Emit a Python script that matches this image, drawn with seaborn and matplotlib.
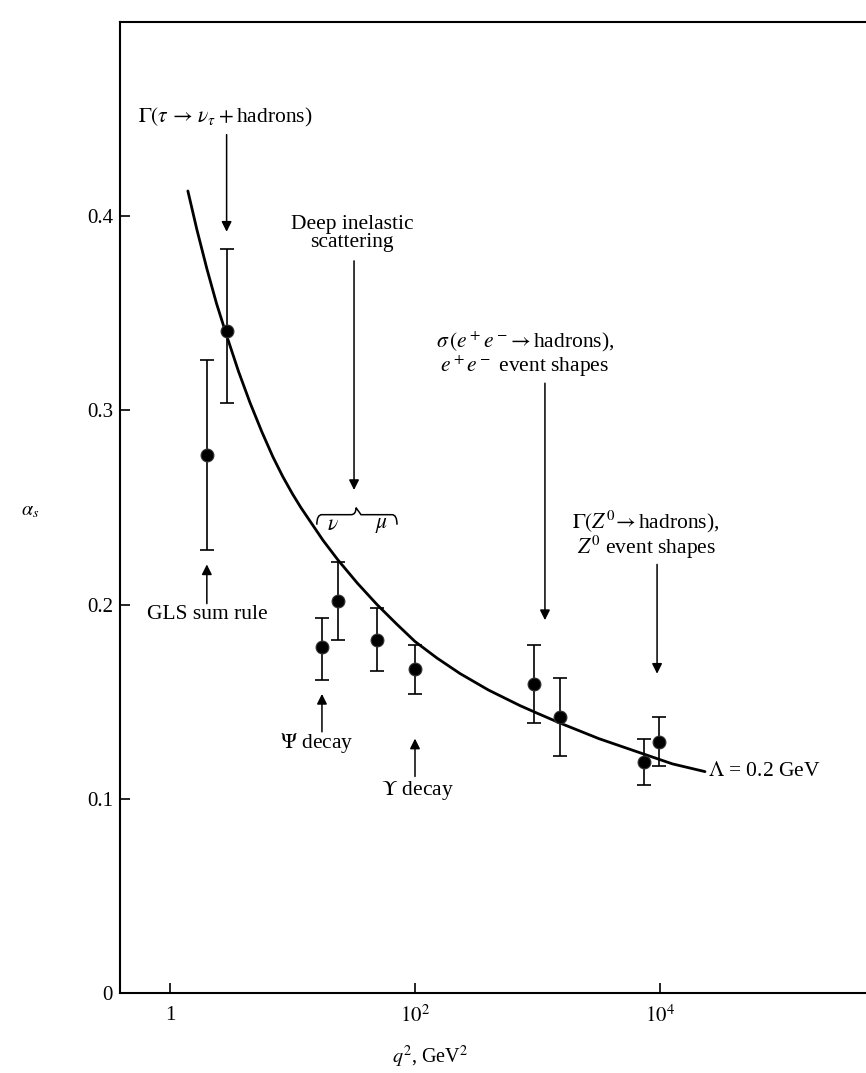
import numpy as np
import pandas as pd
import matplotlib
matplotlib.use("Agg")
import matplotlib.pyplot as plt
from matplotlib.path import Path
from matplotlib.patches import PathPatch
from matplotlib.transforms import IdentityTransform
import seaborn as sns

# Measured strong coupling values with their error ranges
q2_points = [2.0, 2.92, 17.4, 23.5, 49.0, 100.0, 936.0, 1527.0, 7400.0, 9820.0]
alpha_points = [0.277, 0.341, 0.178, 0.202, 0.182, 0.167, 0.159, 0.142, 0.119, 0.129]
alpha_low = [0.228, 0.304, 0.161, 0.182, 0.166, 0.154, 0.139, 0.122, 0.107, 0.117]
alpha_high = [0.326, 0.383, 0.193, 0.222, 0.198, 0.179, 0.179, 0.162, 0.131, 0.142]

# Running coupling curve for Lambda = 0.2 GeV
curve_q2 = [1.40, 1.66, 2.0, 2.40, 2.92, 3.63, 4.50, 5.62, 6.93, 8.32, 10.0,
            11.7, 13.9, 17.8, 23.5, 33.9, 49.0, 70.8, 100.0, 151.0, 233.0,
            398.0, 719.0, 1000.0, 1528.0, 3162.0, 7396.0, 12590.0, 23280.0]
curve_alpha = [0.413, 0.393, 0.373, 0.355, 0.338, 0.320, 0.304, 0.289, 0.276,
               0.266, 0.257, 0.250, 0.243, 0.233, 0.223, 0.211, 0.200, 0.190,
               0.181, 0.1725, 0.1645, 0.156, 0.148, 0.144, 0.139, 0.131, 0.123,
               0.118, 0.114]

x_ticks = [1, 1e2, 1e4]
x_tick_labels = ["1", r"$10^2$", r"$10^4$"]
y_ticks = [0, 0.1, 0.2, 0.3, 0.4]
y_tick_labels = ["0", "0.1", "0.2", "0.3", "0.4"]

points = pd.DataFrame({"q2": q2_points, "alpha": alpha_points,
                       "lo": alpha_low, "hi": alpha_high})
curve = pd.DataFrame({"q2": curve_q2, "alpha": curve_alpha})

sns.set_theme(style="ticks")
plt.rcParams["font.family"] = ["Liberation Serif", "DejaVu Serif"]
plt.rcParams["mathtext.fontset"] = "stix"
plt.rcParams["axes.linewidth"] = 1.5
for key in ("text.color", "axes.labelcolor", "xtick.color", "ytick.color",
            "axes.edgecolor"):
    plt.rcParams[key] = "black"

W, H = 866, 1073
fig = plt.figure(figsize=(W / 100, H / 100), dpi=100)
ax = fig.add_axes([120 / W, 1 - 993 / H, (W - 120) / W, (993 - 22) / H])

ax.set_xscale("log")
ax.set_xlim(0.391, 4.8e5)
ax.set_ylim(0, 0.5)

# theory curve
sns.lineplot(data=curve, x="q2", y="alpha", ax=ax, color="black", lw=2.0,
             sort=False, estimator=None)

# error bars and points
ax.errorbar(points["q2"], points["alpha"],
            yerr=[points["alpha"] - points["lo"], points["hi"] - points["alpha"]],
            fmt="none", ecolor="black", elinewidth=1.2, capsize=5, capthick=1.2)
sns.scatterplot(data=points, x="q2", y="alpha", ax=ax, color="black", s=85,
                edgecolor="#333333", linewidth=0.8, zorder=5)

ax.set_xticks(x_ticks)
ax.set_xticklabels(x_tick_labels)
ax.set_yticks(y_ticks)
ax.set_yticklabels(y_tick_labels)
ax.minorticks_off()
ax.tick_params(axis="both", direction="in", length=7, width=1.2,
               labelsize=15, colors="black")
ax.tick_params(axis="x", pad=9)
ax.tick_params(axis="y", pad=5)
ax.spines["right"].set_visible(False)

ax.set_xlabel(r"$q^2$, GeV$^2$", fontsize=14.5)
ax.xaxis.set_label_coords(0.4155, -0.052)
ax.set_ylabel(r"$\alpha_s$", fontsize=14.5, rotation=0)
ax.yaxis.set_label_coords(-0.12, 0.487)

fs = 15.5
arrow_kw = dict(arrowstyle="-|>", lw=1.1, color="black", mutation_scale=15,
                shrinkA=0, shrinkB=0)


def arrow(x, y_from, y_to):
    ax.annotate("", xy=(x, y_to), xytext=(x, y_from), arrowprops=arrow_kw)


# tau decay
ax.text(2.81, 0.451, r"$\Gamma(\tau\,\rightarrow\,\nu_\tau + $hadrons)",
        ha="center", va="center", fontsize=fs)
arrow(2.9, 0.442, 0.392)

# deep inelastic scattering
ax.text(30.6, 0.391, "Deep inelastic\nscattering", ha="center", va="center",
        fontsize=fs, linespacing=0.9)
arrow(31.8, 0.377, 0.259)
ax.text(21.4, 0.2405, r"$\nu$", ha="center", va="center", fontsize=fs)
ax.text(53.8, 0.2405, r"$\mu$", ha="center", va="center", fontsize=fs)

# GLS sum rule
ax.text(2.0, 0.195, "GLS sum rule", ha="center", va="center", fontsize=fs)
arrow(2.0, 0.2005, 0.2207)

# Psi decay
ax.text(15.9, 0.1285, r"$\Psi$ decay", ha="center", va="center", fontsize=fs)
arrow(17.4, 0.1345, 0.154)

# Upsilon decay
ax.text(104, 0.1045, r"$\Upsilon$ decay", ha="center", va="center", fontsize=fs)
arrow(100, 0.1115, 0.131)

# e+e- annihilation
ax.text(791, 0.329,
        r"$\sigma\,(e^+e^-\!\rightarrow$hadrons)," + "\n" + r"$e^+e^-$ event shapes",
        ha="center", va="center", fontsize=fs, linespacing=0.95)
arrow(1150, 0.3140, 0.192)

# Z0 decays
ax.text(7690, 0.236,
        r"$\Gamma(Z^0\!\rightarrow$hadrons)," + "\n" + r"$Z^0$ event shapes",
        ha="center", va="center", fontsize=fs, linespacing=0.95)
arrow(9460, 0.2207, 0.1644)

# curve label
ax.text(24660, 0.1142, r"$\Lambda$ = 0.2 GeV", ha="left", va="center", fontsize=fs)

# curly brace over the two deep inelastic points, built in display space
fig.canvas.draw()
to_disp = ax.transData.transform
x0, y0 = to_disp((15.8, 0.2463))
x1, _ = to_disp((71.3, 0.2463))
xm, _ = to_disp((33.0, 0.2463))
dy_end, dy_tip, r = 10, 7, 5
verts = [(x0, y0 - dy_end), (x0, y0), (x0 + r, y0),
         (xm - r, y0), (xm, y0), (xm, y0 + dy_tip),
         (xm, y0 + dy_tip), (xm + r, y0),
         (x1 - r, y0), (x1, y0), (x1, y0 - dy_end)]
codes = [Path.MOVETO, Path.CURVE3, Path.CURVE3,
         Path.LINETO, Path.CURVE3, Path.CURVE3,
         Path.MOVETO, Path.LINETO,
         Path.LINETO, Path.CURVE3, Path.CURVE3]
brace = PathPatch(Path(verts, codes), transform=IdentityTransform(),
                  facecolor="none", edgecolor="black", lw=1.1)
fig.add_artist(brace)

fig.savefig("out.png", dpi=100, facecolor="white")
